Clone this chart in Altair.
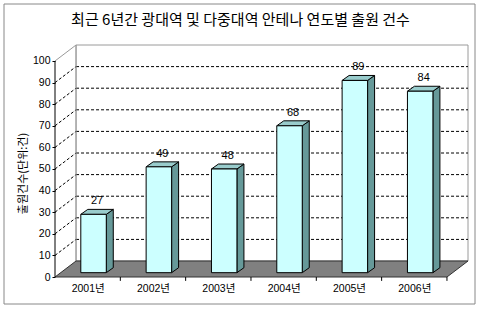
import altair as alt
import pandas as pd

# ---- data ----
years = ["2001년", "2002년", "2003년", "2004년", "2005년", "2006년"]
counts = [27, 49, 48, 68, 89, 84]
y_ticks = [0, 10, 20, 30, 40, 50, 60, 70, 80, 90, 100]
title_text = "최근 6년간 광대역 및 다중대역 안테나 연도별 출원 건수"
y_title = "출원건수(단위:건)"

# ---- 3D geometry (in data units) ----
DX, DY = 0.322, 7.4          # depth of the floor / side wall
BASE = 2.0                   # bar base lifted into the depth
BL, BR = 0.395, 0.785        # bar front face within a band
BDX, BDY = 0.107, 2.3        # bar depth

FONT = "Liberation Sans, Noto Sans CJK KR"

xscale = alt.Scale(domain=[0, 6 + DX], nice=False, zero=False)
yscale = alt.Scale(domain=[0, 100 + DY], nice=False, zero=False)
label_expr = "[" + ",".join("'%s'" % y for y in years) + "][floor(datum.value)]"
xaxis = alt.Axis(values=[i + 0.5 for i in range(len(years))], labelExpr=label_expr,
                 ticks=False, domain=False, grid=False, title=None, labelPadding=6,
                 labelFont=FONT, labelFontSize=10.5, labelColor="#000")
yaxis = alt.Axis(values=y_ticks, domain=False, grid=False, ticks=True, tickSize=3,
                 tickColor="#000", labelPadding=2, labelFont=FONT, labelFontSize=10.5,
                 labelColor="#000", title=y_title, titleFont="Noto Sans CJK KR",
                 titleFontSize=11, titleFontWeight="normal", titleColor="#000",
                 titleX=-32, titleY=128, titleAlign="center", titleBaseline="middle")


def X(f):
    return alt.X(f, type="quantitative", scale=xscale, axis=xaxis)


def Y(f):
    return alt.Y(f, type="quantitative", scale=yscale, axis=yaxis)


n = len(years)

# back wall
wall = pd.DataFrame({"x": [DX], "x2": [6 + DX], "y": [DY], "y2": [100 + DY]})
back = alt.Chart(wall).mark_rect(fill="white", stroke="#9a9a9a", strokeWidth=1).encode(
    x=X("x"), x2="x2", y=Y("y"), y2="y2")

# back-wall gridlines
grid_df = pd.DataFrame({"v": [t + DY for t in y_ticks[1:-1]], "x": DX, "x2": 6 + DX})
grid = alt.Chart(grid_df).mark_rule(color="#000", strokeWidth=1, strokeDash=[3, 2]).encode(
    x=X("x"), x2="x2", y=Y("v"))

# side-wall diagonals
diag_df = pd.DataFrame({"x": 0.0, "x2": DX, "y": y_ticks[1:-1],
                        "y2": [t + DY for t in y_ticks[1:-1]]})
diag = alt.Chart(diag_df).mark_rule(color="#000", strokeWidth=1, strokeDash=[3, 2]).encode(
    x=X("x"), x2="x2", y=Y("y"), y2="y2")

# side-wall top edge and back edge
edge_df = pd.DataFrame({"x": [0.0, DX], "x2": [DX, DX], "y": [100, DY], "y2": [100 + DY, 100 + DY]})
edges = alt.Chart(edge_df).mark_rule(color="#9a9a9a", strokeWidth=1).encode(
    x=X("x"), x2="x2", y=Y("y"), y2="y2")

# floor
floor_df = pd.DataFrame({"y": [0.0, DY], "xl": [0.0, DX], "xr": [6.0, 6 + DX]})
floor = alt.Chart(floor_df).mark_area(orient="horizontal", fill="#808080", stroke="#333",
                                      strokeWidth=1).encode(
    y=Y("y"), x=X("xl"), x2="xr")

# floor ticks between categories
ftick_df = pd.DataFrame({"x": list(range(1, n + 1)), "y": 0.0, "y2": -1.8})
fticks = alt.Chart(ftick_df).mark_rule(color="#000", strokeWidth=1).encode(
    x=X("x"), y=Y("y"), y2="y2")

# front value axis line
axis_df = pd.DataFrame({"x": [0.0], "y": [0.0], "y2": [100.0]})
axis_line = alt.Chart(axis_df).mark_rule(color="#000", strokeWidth=1).encode(
    x=X("x"), y=Y("y"), y2="y2")

# bars
front_rows, side_rows, top_rows, lab_rows = [], [], [], []
for i, (yr, v) in enumerate(zip(years, counts)):
    x0, x1 = i + BL, i + BR
    yb, yt = BASE, v + BASE
    front_rows.append({"year": yr, "x0": x0, "x1": x1, "yb": yb, "yt": yt})
    side_rows += [{"year": yr, "x": x1, "lo": yb, "hi": yt},
                  {"year": yr, "x": x1 + BDX, "lo": yb + BDY, "hi": yt + BDY}]
    top_rows += [{"year": yr, "y": yt, "l": x0, "r": x1},
                 {"year": yr, "y": yt + BDY, "l": x0 + BDX, "r": x1 + BDX}]
    lab_rows.append({"year": yr, "x": (x0 + x1) / 2 + BDX / 2, "y": yt + BDY, "v": v})

side = alt.Chart(pd.DataFrame(side_rows)).mark_area(
    orient="vertical", fill="#669999", stroke="#000", strokeWidth=1).encode(
    x=X("x"), y=Y("lo"), y2="hi", detail="year:N")
top = alt.Chart(pd.DataFrame(top_rows)).mark_area(
    orient="horizontal", fill="#99CCCC", stroke="#000", strokeWidth=1).encode(
    y=Y("y"), x=X("l"), x2="r", detail="year:N")
front = alt.Chart(pd.DataFrame(front_rows)).mark_rect(
    fill="#CCFFFF", stroke="#000", strokeWidth=1).encode(
    x=X("x0"), x2="x1", y=Y("yb"), y2="yt")
labels = alt.Chart(pd.DataFrame(lab_rows)).mark_text(
    baseline="bottom", align="center", dy=-3, font=FONT, fontSize=11, color="#000").encode(
    x=X("x"), y=Y("y"), text="v:Q")

# outer frame
frame = alt.Chart(pd.DataFrame({"a": [0]})).mark_rect(
    fill="transparent", stroke="#888", strokeWidth=1).encode(
    x=alt.value(-51), x2=alt.value(420), y=alt.value(-41), y2=alt.value(259))

chart = alt.layer(back, grid, diag, edges, floor, fticks, axis_line, side, top, front,
                  labels, frame).properties(
    width=413, height=232,
    padding={"left": 55, "top": 45, "right": 12, "bottom": 32},
    autosize=alt.AutoSizeParams(type="none"),
    title=alt.TitleParams(title_text, font="Noto Sans CJK KR", fontSize=15,
                          fontWeight="normal", color="#000", anchor="middle",
                          frame="group", dx=-21, offset=-24),
    background="white",
).configure_view(strokeWidth=0)

chart.save("out.html", embed_options={"renderer": "svg", "actions": False})
